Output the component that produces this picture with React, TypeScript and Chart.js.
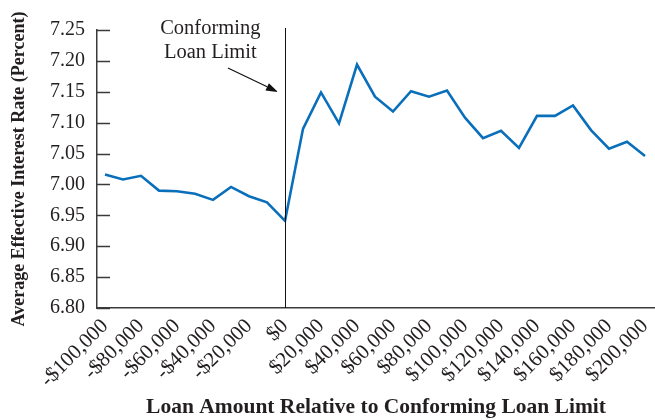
import { useEffect, useRef } from 'react';
import { Chart, registerables } from 'chart.js';

Chart.register(...registerables);

const loanAmounts = [
  -100000, -90000, -80000, -70000, -60000, -50000, -40000, -30000, -20000, -10000, 0,
  10000, 20000, 30000, 40000, 50000, 60000, 70000, 80000, 90000, 100000,
  110000, 120000, 130000, 140000, 150000, 160000, 170000, 180000, 190000, 200000,
];

const rates = [
  7.016, 7.008, 7.014, 6.99, 6.989, 6.985, 6.975, 6.996, 6.981, 6.971, 6.941,
  7.09, 7.149, 7.099, 7.194, 7.142, 7.118, 7.151, 7.142, 7.152, 7.108,
  7.075, 7.087, 7.059, 7.111, 7.111, 7.128, 7.088, 7.058, 7.069, 7.046,
];

const xTickValues = [
  -100000, -80000, -60000, -40000, -20000, 0, 20000, 40000, 60000, 80000,
  100000, 120000, 140000, 160000, 180000, 200000,
];

const xTickLabels = [
  '-$100,000', '-$80,000', '-$60,000', '-$40,000', '-$20,000', '$0', '$20,000', '$40,000',
  '$60,000', '$80,000', '$100,000', '$120,000', '$140,000', '$160,000', '$180,000', '$200,000',
];

const yTickValues = [6.8, 6.85, 6.9, 6.95, 7.0, 7.05, 7.1, 7.15, 7.2, 7.25];

const annotationLines = ['Conforming', 'Loan Limit'];

const xTitle = 'Loan Amount Relative to Conforming Loan Limit';
const yTitle = 'Average Effective Interest Rate (Percent)';

const FONT = "'Liberation Serif', 'Times New Roman', serif";
const TEXT = '#231f20';
const AXIS = '#3a3a3a';

export default function App() {
  const ref = useRef<HTMLCanvasElement>(null);

  useEffect(() => {
    if (!ref.current) return;

    const overlay = {
      id: 'overlay',
      afterDraw(chart: any) {
        const { ctx, chartArea, scales } = chart;
        const x = scales.x;
        const y = scales.y;
        ctx.save();

        // inward y tick marks
        ctx.strokeStyle = AXIS;
        ctx.lineWidth = 1.5;
        yTickValues.forEach((v) => {
          const py = Math.round(y.getPixelForValue(v)) + 0.5;
          ctx.beginPath();
          ctx.moveTo(chartArea.left, py);
          ctx.lineTo(chartArea.left + 13, py);
          ctx.stroke();
        });

        // conforming limit line
        const px0 = Math.round(x.getPixelForValue(0)) + 0.5;
        ctx.strokeStyle = '#111';
        ctx.lineWidth = 1;
        ctx.beginPath();
        ctx.moveTo(px0, chartArea.top - 2);
        ctx.lineTo(px0, chartArea.bottom);
        ctx.stroke();

        // annotation text
        ctx.fillStyle = TEXT;
        ctx.font = `20.5px ${FONT}`;
        ctx.textAlign = 'center';
        ctx.textBaseline = 'middle';
        const tx = x.getPixelForValue(-41500);
        ctx.fillText(annotationLines[0], tx, y.getPixelForValue(7.253));
        ctx.fillText(annotationLines[1], tx, y.getPixelForValue(7.214));

        // arrow
        const ax0 = x.getPixelForValue(-31700);
        const ay0 = y.getPixelForValue(7.1885);
        const ax1 = x.getPixelForValue(-3900);
        const ay1 = y.getPixelForValue(7.1496);
        const ang = Math.atan2(ay1 - ay0, ax1 - ax0);
        const headLen = 12;
        const headW = 4;
        const bx = ax1 - headLen * Math.cos(ang);
        const by = ay1 - headLen * Math.sin(ang);
        ctx.strokeStyle = '#111';
        ctx.lineWidth = 1.2;
        ctx.beginPath();
        ctx.moveTo(ax0, ay0);
        ctx.lineTo(bx, by);
        ctx.stroke();
        ctx.fillStyle = '#111';
        ctx.beginPath();
        ctx.moveTo(ax1, ay1);
        ctx.lineTo(bx + headW * Math.sin(ang), by - headW * Math.cos(ang));
        ctx.lineTo(bx - headW * Math.sin(ang), by + headW * Math.cos(ang));
        ctx.closePath();
        ctx.fill();

        ctx.restore();
      },
    };

    const chart = new Chart(ref.current, {
      type: 'line',
      data: {
        datasets: [
          {
            data: loanAmounts.map((v, i) => ({ x: v, y: rates[i] })),
            borderColor: '#0a6fba',
            borderWidth: 2.6,
            pointRadius: 0,
            tension: 0,
            fill: false,
          },
        ],
      },
      options: {
        animation: false,
        responsive: false,
        devicePixelRatio: 1,
        layout: { padding: { top: 30, left: 0, right: 0, bottom: 0 } },
        plugins: {
          legend: { display: false },
          tooltip: { enabled: false },
        },
        scales: {
          x: {
            type: 'linear',
            min: -104444,
            max: 205556,
            grid: { display: false, drawTicks: false },
            border: { display: true, color: AXIS, width: 1.5 },
            afterBuildTicks(scale: any) {
              scale.ticks = xTickValues.map((v) => ({ value: v }));
            },
            afterFit(scale: any) {
              scale.height = 112;
              scale.paddingLeft = 0;
              scale.paddingRight = 0;
            },
            ticks: {
              autoSkip: false,
              maxRotation: 45,
              minRotation: 45,
              padding: 6,
              color: TEXT,
              font: { family: FONT, size: 21 },
              callback: (value: any) => {
                const idx = xTickValues.indexOf(Number(value));
                return idx >= 0 ? xTickLabels[idx] : '';
              },
            },
            title: {
              display: true,
              text: xTitle,
              color: TEXT,
              font: { family: FONT, size: 21.5, weight: 'bold' },
              padding: { top: 0, bottom: 0 },
            },
          },
          y: {
            type: 'linear',
            min: 6.8,
            max: 7.25,
            grid: { display: false, drawTicks: false },
            border: { display: true, color: AXIS, width: 1.5 },
            afterBuildTicks(scale: any) {
              scale.ticks = yTickValues.map((v) => ({ value: v }));
            },
            afterFit(scale: any) {
              scale.width = 97;
            },
            ticks: {
              padding: 12,
              color: TEXT,
              font: { family: FONT, size: 20 },
              callback: (value: any) => Number(value).toFixed(2),
            },
            title: {
              display: true,
              text: yTitle,
              color: TEXT,
              font: { family: FONT, size: 18, weight: 'bold' },
              padding: { top: 9, bottom: 0 },
            },
          },
        },
      },
      plugins: [overlay],
    });

    return () => chart.destroy();
  }, []);

  return (
    <div style={{ position: 'fixed', left: 0, top: 0, width: 655, height: 420, background: '#fff' }}>
      <canvas ref={ref} width={655} height={420} style={{ width: 655, height: 420 }} />
    </div>
  );
}
